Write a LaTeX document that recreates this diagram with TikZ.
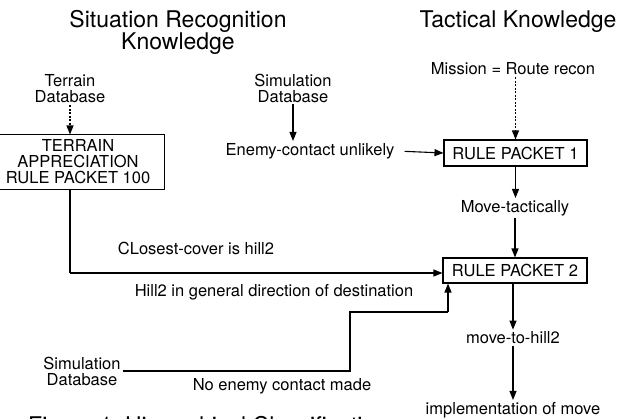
\documentclass[tikz,border=0pt]{standalone}
\usepackage{fontspec}
\setmainfont{TeX Gyre Heros}
\usetikzlibrary{arrows.meta,calc}
\tikzset{
  titletxt/.style={font=\fontsize{23}{20}\selectfont, align=center, inner sep=1pt},
  bodytxt/.style={font=\fontsize{16.5}{16}\selectfont, align=center, inner sep=2pt},
  packet/.style={draw, line width=1.1pt, font=\fontsize{16.5}{16}\selectfont, align=center, inner sep=2pt},
  flow/.style={line width=1.1pt, -{Triangle[length=9pt,width=7pt]}},
  dotflow/.style={flow, dash pattern=on 2pt off 1.5pt},
  plain/.style={line width=1.1pt}
}
\begin{document}
\begin{tikzpicture}[x=1pt,y=-1pt]
\useasboundingbox (0,0) rectangle (628,418);
% titles
\node[titletxt] (t1) at (178,32.5) {Situation Recognition\\Knowledge};
\node[titletxt] (t2) at (518,22) {Tactical Knowledge};
% left column
\node[bodytxt] (terrdb) at (70,89) {Terrain\\Database};
\node[packet, draw=none, minimum width=172pt, minimum height=54pt] (tbox) at (78,162) {TERRAIN\\APPRECIATION\\RULE PACKET 100};
\draw[plain] (tbox.north west) -- (tbox.north east) -- (tbox.south east) -- (tbox.south west);
\node[bodytxt] (simdb1) at (293,88) {Simulation\\Database};
\node[bodytxt] (enemy) at (310,151) {Enemy-contact unlikely};
\node[bodytxt] (closest) at (196,248) {CLosest-cover is hill2};
\node[bodytxt] (hill) at (274,292) {Hill2 in general direction of destination};
\node[bodytxt] (simdb2) at (82,371) {Simulation\\Database};
\node[bodytxt] (nocont) at (282,386) {No enemy contact made};
% right column
\node[bodytxt] (mission) at (513,69) {Mission = Route recon};
\node[packet, minimum width=143pt, minimum height=26pt] (rp1) at (515.5,153) {RULE PACKET 1};
\node[bodytxt] (move) at (515,208) {Move-tactically};
\node[packet, minimum width=144pt, minimum height=25pt] (rp2) at (515,270.5) {RULE PACKET 2};
\node[bodytxt] (mth) at (513,338) {move-to-hill2};
\node[bodytxt] (impl) at (513,410) {implementation of move};
% caption (cut off at the bottom edge, as in the source)
\node[font=\fontsize{23}{23}\selectfont, anchor=base west, inner sep=0pt] (cap) at (28,433) {Figure 1.\ Hierarchical Classification};
% coordinates
\coordinate (c1) at (70,273);
\coordinate (k1) at (350,371);
\coordinate (k2) at (350,312);
\coordinate (k3) at (448,312);
% connectors
\draw[dotflow] (terrdb.south) -- (terrdb.south |- tbox.north);
\draw[plain] (terrdb.south |- tbox.south) -- (c1);
\draw[flow] (c1) -- (c1 -| rp2.west);
\draw[flow] (simdb1.south) -- (simdb1.south |- enemy.north);
\draw[flow, shorten <=8pt] (enemy.east) -- (rp1.west);
\draw[dotflow] (mission.south -| rp1.north) -- (rp1.north);
\draw[flow] (rp1.south) -- (move.north -| rp1.south);
\draw[flow] (move.south -| rp2.north) -- (rp2.north);
\draw[plain] (simdb2.east |- k1) -- (k1) -- (k2) -- (k3);
\draw[flow] (k3) -- (k3 |- rp2.south);
\draw[flow] (rp2.south -| mth.north) -- (mth.north);
\draw[flow] (mth.south) -- (impl.north);
\end{tikzpicture}
\end{document}
